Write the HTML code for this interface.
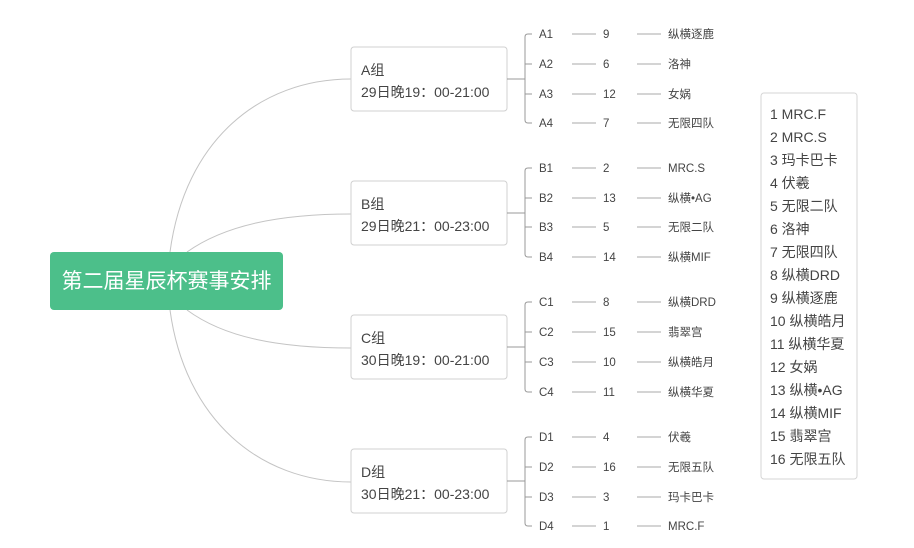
<!DOCTYPE html>
<html><head><meta charset="utf-8"><style>
html,body{margin:0;padding:0;background:#fff;}
svg{display:block;font-family:"Liberation Sans","Noto Sans CJK SC",sans-serif;}
.g{font-size:14px;fill:#444;}
.l{font-size:11.5px;fill:#444;}
.k{font-size:14px;fill:#444;}
</style></head><body>
<svg width="914" height="548" viewBox="0 0 914 548" xmlns="http://www.w3.org/2000/svg">
<g fill="none" stroke="#c4c4c4" stroke-width="1">
<path d="M170 252 C185 140 260 79 351 79"/>
<path d="M187 252 C225 225 280 214 351 214"/>
<path d="M170 310 C185 420 260 482 351 482"/>
<path d="M187 310 C225 338 280 348 351 348"/>
</g>
<rect x="50" y="252" width="233" height="58" rx="4" fill="#4cbf8a"/>
<text x="166.5" y="288" text-anchor="middle" font-size="21" fill="#fff">第二届星辰杯赛事安排</text>

<rect x="761" y="93" width="96" height="386" rx="3" fill="#fff" stroke="#d6d6d6"/>
<g class="k">
<text x="770" y="119">1 MRC.F</text>
<text x="770" y="142">2 MRC.S</text>
<text x="770" y="165">3 玛卡巴卡</text>
<text x="770" y="188">4 伏羲</text>
<text x="770" y="211">5 无限二队</text>
<text x="770" y="234">6 洛神</text>
<text x="770" y="257">7 无限四队</text>
<text x="770" y="280">8 纵横DRD</text>
<text x="770" y="303">9 纵横逐鹿</text>
<text x="770" y="326">10 纵横皓月</text>
<text x="770" y="349">11 纵横华夏</text>
<text x="770" y="372">12 女娲</text>
<text x="770" y="395">13 纵横•AG</text>
<text x="770" y="418">14 纵横MIF</text>
<text x="770" y="441">15 翡翠宫</text>
<text x="770" y="464">16 无限五队</text>
</g>

<g>
<rect x="351" y="47" width="156" height="64" rx="3" fill="#fff" stroke="#d0d0d0"/>
<text class="g" x="361" y="75">A组</text>
<text class="g" x="361" y="97">29日晚19：00-21:00</text>
<path d="M507 79 H525 M528 34 Q525 34 525 37 V120 Q525 123 528 123 H532 M525 64 H532 M525 94 H532 M528 34 H532" fill="none" stroke="#999"/>
<g class="l">
<text x="539" y="38">A1</text><text x="603" y="38">9</text><text x="668" y="38">纵横逐鹿</text>
<text x="539" y="68">A2</text><text x="603" y="68">6</text><text x="668" y="68">洛神</text>
<text x="539" y="98">A3</text><text x="603" y="98">12</text><text x="668" y="98">女娲</text>
<text x="539" y="127">A4</text><text x="603" y="127">7</text><text x="668" y="127">无限四队</text>
</g>
<path d="M572 34H596M637 34H661M572 64H596M637 64H661M572 94H596M637 94H661M572 123H596M637 123H661" stroke="#aaa"/>
</g>
<g>
<rect x="351" y="181" width="156" height="64" rx="3" fill="#fff" stroke="#d0d0d0"/>
<text class="g" x="361" y="209">B组</text>
<text class="g" x="361" y="231">29日晚21：00-23:00</text>
<path d="M507 213 H525 M528 168 Q525 168 525 171 V254 Q525 257 528 257 H532 M525 198 H532 M525 227 H532 M528 168 H532" fill="none" stroke="#999"/>
<g class="l">
<text x="539" y="172">B1</text><text x="603" y="172">2</text><text x="668" y="172">MRC.S</text>
<text x="539" y="202">B2</text><text x="603" y="202">13</text><text x="668" y="202">纵横•AG</text>
<text x="539" y="231">B3</text><text x="603" y="231">5</text><text x="668" y="231">无限二队</text>
<text x="539" y="261">B4</text><text x="603" y="261">14</text><text x="668" y="261">纵横MIF</text>
</g>
<path d="M572 168H596M637 168H661M572 198H596M637 198H661M572 227H596M637 227H661M572 257H596M637 257H661" stroke="#aaa"/>
</g>
<g>
<rect x="351" y="315" width="156" height="64" rx="3" fill="#fff" stroke="#d0d0d0"/>
<text class="g" x="361" y="343">C组</text>
<text class="g" x="361" y="365">30日晚19：00-21:00</text>
<path d="M507 347 H525 M528 302 Q525 302 525 305 V389 Q525 392 528 392 H532 M525 332 H532 M525 362 H532 M528 302 H532" fill="none" stroke="#999"/>
<g class="l">
<text x="539" y="306">C1</text><text x="603" y="306">8</text><text x="668" y="306">纵横DRD</text>
<text x="539" y="336">C2</text><text x="603" y="336">15</text><text x="668" y="336">翡翠宫</text>
<text x="539" y="366">C3</text><text x="603" y="366">10</text><text x="668" y="366">纵横皓月</text>
<text x="539" y="396">C4</text><text x="603" y="396">11</text><text x="668" y="396">纵横华夏</text>
</g>
<path d="M572 302H596M637 302H661M572 332H596M637 332H661M572 362H596M637 362H661M572 392H596M637 392H661" stroke="#aaa"/>
</g>
<g>
<rect x="351" y="449" width="156" height="64" rx="3" fill="#fff" stroke="#d0d0d0"/>
<text class="g" x="361" y="477">D组</text>
<text class="g" x="361" y="499">30日晚21：00-23:00</text>
<path d="M507 481 H525 M528 437 Q525 437 525 440 V523 Q525 526 528 526 H532 M525 467 H532 M525 497 H532 M528 437 H532" fill="none" stroke="#999"/>
<g class="l">
<text x="539" y="441">D1</text><text x="603" y="441">4</text><text x="668" y="441">伏羲</text>
<text x="539" y="471">D2</text><text x="603" y="471">16</text><text x="668" y="471">无限五队</text>
<text x="539" y="501">D3</text><text x="603" y="501">3</text><text x="668" y="501">玛卡巴卡</text>
<text x="539" y="530">D4</text><text x="603" y="530">1</text><text x="668" y="530">MRC.F</text>
</g>
<path d="M572 437H596M637 437H661M572 467H596M637 467H661M572 497H596M637 497H661M572 526H596M637 526H661" stroke="#aaa"/>
</g>
</svg>
</body></html>
